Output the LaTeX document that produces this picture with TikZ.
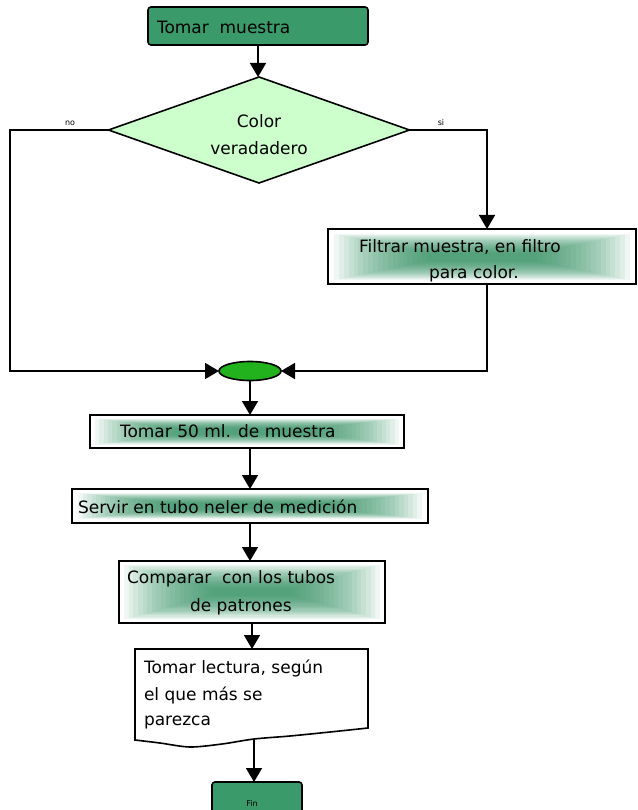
\documentclass[tikz,border=0pt]{standalone}
\usepackage{fontspec}
\setmainfont{DejaVu Sans}
\usetikzlibrary{shapes.geometric,arrows.meta}
\definecolor{termgreen}{RGB}{58,154,106}
\definecolor{decgreen}{RGB}{204,255,204}
\definecolor{joingreen}{RGB}{34,178,30}
\definecolor{glowgreen}{RGB}{40,140,90}
% stepped green glow: nested translucent rectangles around a node centre
% #1 node, #2/#3 outer half width/height, #4/#5 inner half width/height
\newcommand\boxglow[5]{%
  \begin{scope}[shift={(#1.center)}]
    \foreach \k in {0,...,19}{%
      \pgfmathsetmacro\hw{#2+(#4-#2)*\k/19}%
      \pgfmathsetmacro\hh{#3+(#5-#3)*\k/19}%
      \fill[glowgreen,opacity=0.07] (-\hw,-\hh) rectangle (\hw,\hh);}
  \end{scope}}
\begin{document}
\begin{tikzpicture}[x=1pt,y=-1pt,line width=1.6pt,
  every node/.style={inner sep=0pt,outer sep=0pt},
  flow/.style={-{Triangle[width=16pt,length=14pt]}},
  term/.style={draw,rectangle,rounded corners=3pt,fill=termgreen},
  dec/.style={draw,diamond,fill=decgreen},
  joint/.style={draw,ellipse,fill=joingreen},
  pbox/.style={draw,rectangle,fill=white},
  txt/.style={font=\fontsize{17}{20}\selectfont,anchor=base west},
  ctxt/.style={font=\fontsize{17}{20}\selectfont,anchor=base},
  small/.style={font=\fontsize{8}{10}\selectfont,anchor=base}]
\useasboundingbox (0,0) rectangle (637,810);
\clip (0,0) rectangle (637,810);

% start
\node[term,minimum width=220pt,minimum height=38pt] (start) at (258,26) {};
\node[txt] at (157,34) {Tomar\ \ muestra};

% decision
\node[dec,minimum width=301pt,minimum height=106pt] (color) at (259,130) {};
\node[ctxt] at (259,128) {Color};
\node[ctxt] at (259,155) {veradadero};
\node[small] at (70,126) {no};
\node[small] at (441,126) {si};

% filter box
\node[pbox,minimum width=308pt,minimum height=55pt] (filt) at (482,256.5) {};
\boxglow{filt}{148}{23}{55}{4}
\node[txt] at (359,252) {Filtrar muestra, en filtro};
\node[txt] at (429,278) {para color.};

% join
\node[joint,minimum width=62pt,minimum height=19pt] (join) at (250,371) {};

% process steps
\node[pbox,minimum width=314pt,minimum height=33pt] (t50) at (247,431.5) {};
\boxglow{t50}{152}{13}{70}{3}
\node[txt] at (120,437) {Tomar 50 ml. de muestra};

\node[pbox,minimum width=356pt,minimum height=34pt] (serv) at (250,506) {};
\boxglow{serv}{172}{13}{85}{3}
\node[txt] at (78,513) {Servir en tubo neler de medición};

\node[pbox,minimum width=266pt,minimum height=62pt] (comp) at (252,592) {};
\boxglow{comp}{128}{27}{40}{4}
\node[txt] at (127,583) {Comparar\ \ con los tubos};
\node[txt] at (190,611) {de patrones};

% document shape
\node[minimum width=233pt,minimum height=92pt] (doc) at (251.5,695) {};
\draw[fill=white] (doc.north west) -- (doc.north east) -- (368,728)
  -- plot[smooth] coordinates {(368,728) (330,732) (290,736) (254,739) (222,744) (190,747) (160,743) (135,740)}
  -- cycle;
\coordinate (docbot) at (254,739);
\node[txt] at (144,673) {Tomar lectura, según};
\node[txt] at (144,700) {el que más se};
\node[txt] at (144,725) {parezca};

% end
\node[term,minimum width=90pt,minimum height=32pt] (fin) at (257,798) {};
\node[small] at (252,806) {Fin};

% connectors
\coordinate (nocorner) at (10,130);
\coordinate (sicorner) at (487,130);
\draw[flow] (start.south) -- (start.south |- color.north);
\draw[flow] (color.west) -- (nocorner) |- (join.west);
\draw[flow] (color.east) -- (sicorner) -- (sicorner |- filt.north);
\draw[flow] (sicorner |- filt.south) |- (join.east);
\draw[flow] (join.south) -- (join.south |- t50.north);
\draw[flow] (t50.south -| join.south) -- (serv.north -| join.south);
\draw[flow] (serv.south -| join.south) -- (comp.north -| join.south);
\draw[flow] (comp.south) -- (comp.south |- doc.north);
\draw[flow] (docbot) -- (docbot |- fin.north);
\end{tikzpicture}
\end{document}
